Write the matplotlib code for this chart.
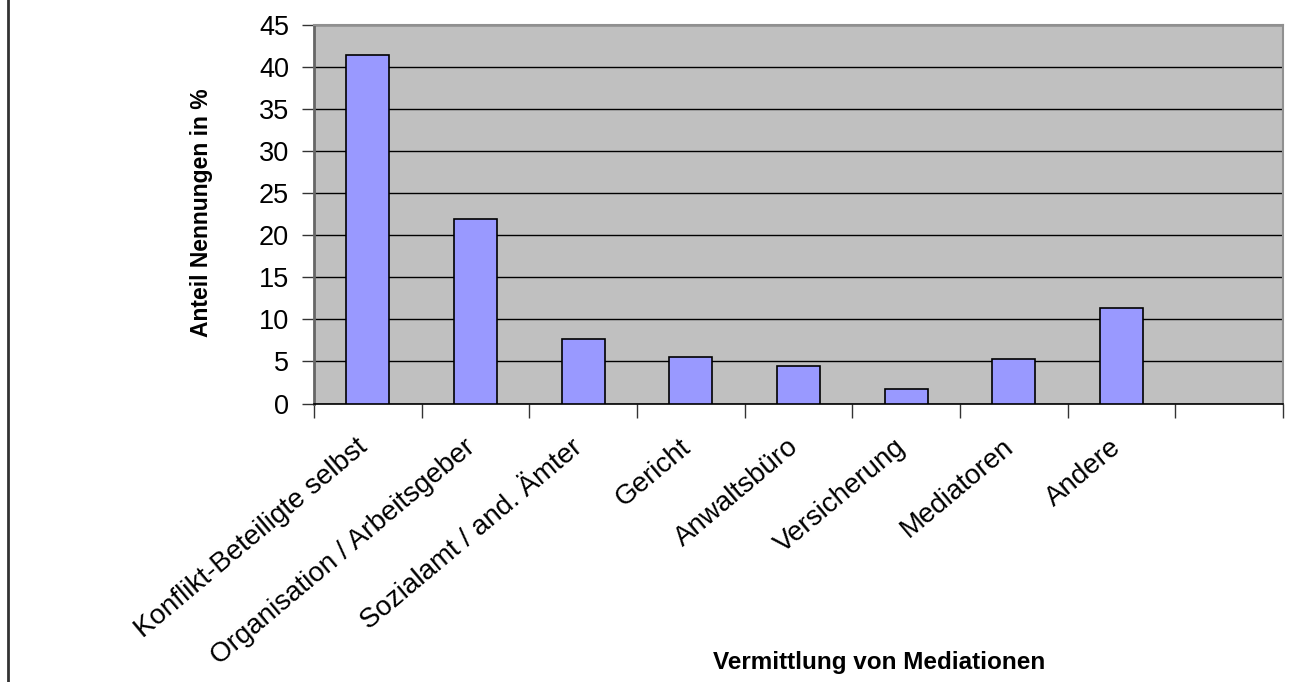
import matplotlib
matplotlib.use('Agg')
import matplotlib.pyplot as plt
import matplotlib.transforms as mtransforms
from matplotlib.lines import Line2D
import numpy as np

plt.rcParams['font.family'] = ['Liberation Sans', 'DejaVu Sans']

# data
categories = ['Konflikt-Beteiligte selbst', 'Organisation / Arbeitsgeber',
              'Sozialamt / and. Ämter', 'Gericht', 'Anwaltsbüro',
              'Versicherung', 'Mediatoren', 'Andere']
values = [41.4, 21.9, 7.7, 5.5, 4.5, 1.7, 5.3, 11.3]
n_slots = 9  # the chart leaves one empty slot on the right
yticks = [0, 5, 10, 15, 20, 25, 30, 35, 40, 45]

W, H = 1299, 682
fig = plt.figure(figsize=(W / 100, H / 100), dpi=100)
ax = fig.add_axes([314 / W, 1 - 403.5 / H, (1283 - 314) / W, (403.5 - 25) / H])
ax.set_facecolor('#C0C0C0')

x = np.arange(len(categories))
ax.bar(x, values, width=0.4, color='#9999FF', edgecolor='black', linewidth=1.2, zorder=3)

ax.set_xlim(-0.5, n_slots - 0.5)
ax.set_ylim(0, 45)
ax.set_yticks(yticks)
ax.yaxis.grid(True, color='black', linewidth=1.0, zorder=1)
ax.set_axisbelow(True)

# ticks between categories, labels at category centres
ax.set_xticks(np.arange(n_slots + 1) - 0.5)
ax.set_xticklabels([])
ax.set_xticks(x, minor=True)
ax.set_xticklabels(categories, minor=True, rotation=40, ha='right', va='top',
                   rotation_mode='anchor', fontsize=20)
ax.tick_params(axis='x', which='minor', length=0, pad=22)
ax.tick_params(axis='x', which='major', length=10, width=1.0, color='#333333')
ax.tick_params(axis='y', length=9, width=1.0, color='#333333', labelsize=19.5, pad=9)

# nudge the rotated labels a bit to the left
shift = mtransforms.ScaledTranslation(-12 / 100, 0, fig.dpi_scale_trans)
for lab in ax.get_xticklabels(minor=True):
    lab.set_transform(lab.get_transform() + shift)

for s in ['top', 'right']:
    ax.spines[s].set_color('#909090')
    ax.spines[s].set_linewidth(1.5)
ax.spines['left'].set_color('#666666')
ax.spines['left'].set_linewidth(2.0)
ax.spines['bottom'].set_color('black')
ax.spines['bottom'].set_linewidth(1.2)

fig.text(201 / W, 1 - 213 / H, 'Anteil Nennungen in %', rotation=90,
         ha='center', va='center', fontsize=16.5, fontweight='bold')
fig.text(879 / W, 1 - 662 / H, 'Vermittlung von Mediationen',
         ha='center', va='center', fontsize=17.5, fontweight='bold')

# frame line on the left edge of the picture
fig.add_artist(Line2D([7.5 / W, 7.5 / W], [0, 1], color='#333333', linewidth=2))

fig.savefig('out.png', dpi=100)
